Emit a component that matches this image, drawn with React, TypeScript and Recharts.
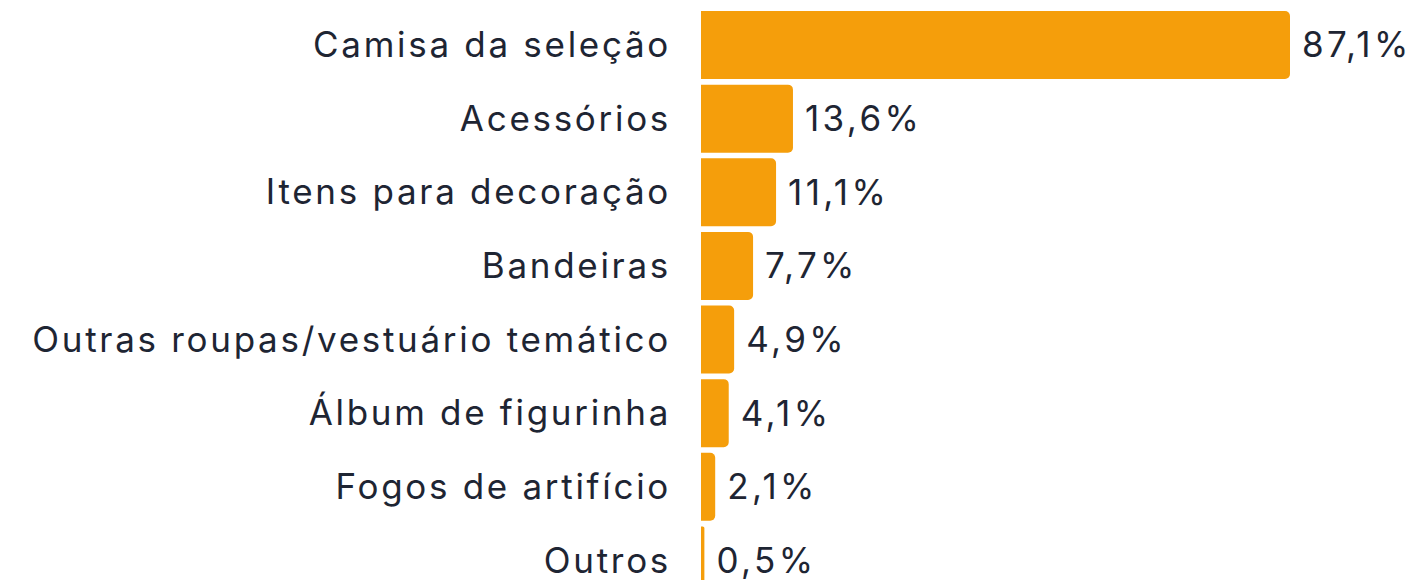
import React from 'react';
import { BarChart, Bar, XAxis, YAxis, LabelList } from 'recharts';

const categories = [
  'Camisa da seleção',
  'Acessórios',
  'Itens para decoração',
  'Bandeiras',
  'Outras roupas/vestuário temático',
  'Álbum de figurinha',
  'Fogos de artifício',
  'Outros',
];
const values = [87.1, 13.6, 11.1, 7.7, 4.9, 4.1, 2.1, 0.5];

const data = categories.map((name, i) => ({ name, value: values[i] }));

const FONT = 'Inter, "Noto Sans", sans-serif';
const TEXT = '#1e2533';

const fmt = (v: number) => v.toFixed(1).replace('.', ',') + '%';

export default function App() {
  return (
    <div style={{ width: 1411, height: 589 }}>
      <BarChart
        width={1411}
        height={589}
        data={data}
        layout="vertical"
        margin={{ top: 0, right: 129, bottom: 0, left: 0 }}
      >
        <XAxis type="number" domain={[0, 87.1]} hide />
        <YAxis
          type="category"
          dataKey="name"
          width={693}
          axisLine={false}
          tickLine={false}
          tickSize={0}
          tickMargin={30}
          interval={0}
          tick={{ fill: TEXT, fontSize: 35, fontFamily: FONT, letterSpacing: 2.7 }}
        />
        <Bar dataKey="value" fill="#F59E0B" barSize={68} radius={[0, 5, 5, 0]} isAnimationActive={false}>
          <LabelList
            dataKey="value"
            position="right"
            offset={12}
            formatter={(v: any) => fmt(Number(v))}
            style={{ fill: TEXT, fontSize: 35, fontFamily: FONT, letterSpacing: 3.4 }}
          />
        </Bar>
      </BarChart>
    </div>
  );
}
